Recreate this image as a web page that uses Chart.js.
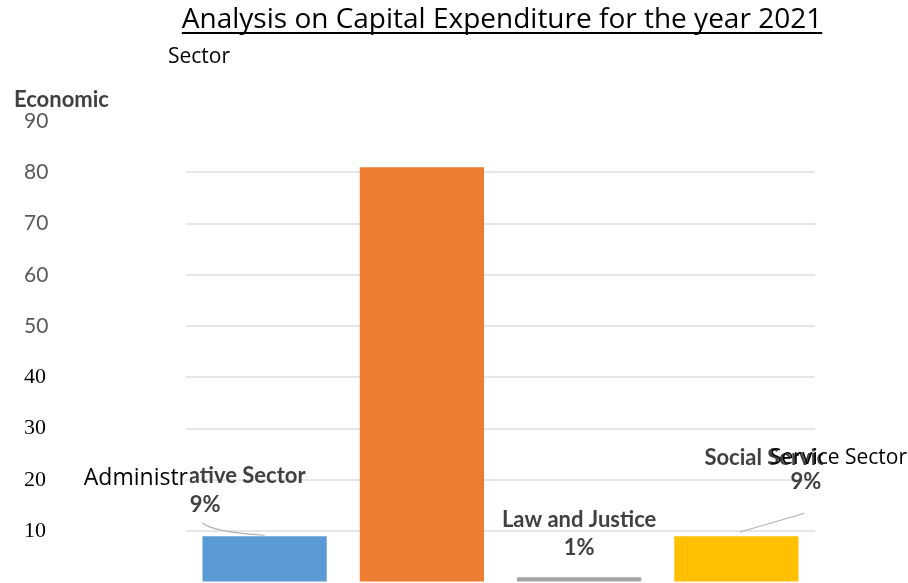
<!DOCTYPE html>
<html>
<head>
<meta charset="utf-8">
<title>Capital Expenditure 2021</title>
<script src="https://cdn.jsdelivr.net/npm/chart.js@4.4.1/dist/chart.umd.min.js"></script>
<style>
  html, body { margin: 0; padding: 0; background: #ffffff; }
  #capexChart { display: block; }
</style>
</head>
<body>
<canvas id="capexChart" width="908" height="583"></canvas>
<script>
// Capital expenditure share by sector, 2021 (percent)
const sectors = ['Administrative Sector', 'Economic Sector', 'Law and Justice', 'Social Service Sector'];
const sharePct = [9, 81, 1, 9];
const barColors = ['#5b9bd5', '#ed7d31', '#a5a5a5', '#ffc000'];
const yMin = 0;
const yMax = 90;
const yStep = 10;

const chartTitle = 'Analysis on Capital Expenditure for the year 2021';

const LABEL_GREY = '#404040';
const BOLD_FONT = 'bold 22px Lato';

const tickVal = c => (c && c.tick ? c.tick.value : null);

// Title (underlined), sector callouts and leader lines
const calloutPlugin = {
    id: 'callouts',
    afterDatasetsDraw(chart) {
        const ctx = chart.ctx;
        const bars = chart.getDatasetMeta(0).data;
        const pct = i => `${sharePct[i]}%`;

        ctx.save();
        ctx.textBaseline = 'alphabetic';
        ctx.fillStyle = '#000';
        ctx.font = '28px "Open Sans"';
        ctx.textAlign = 'center';
        ctx.fillText(chartTitle, 502, 28);
        const tw = ctx.measureText(chartTitle).width;
        ctx.fillRect(502 - tw / 2, 32, tw, 2);
        ctx.restore();

        // bold data labels live inside the plot picture only
        ctx.save();
        ctx.beginPath();
        ctx.rect(190, 40, 633, 543);
        ctx.clip();
        ctx.textBaseline = 'middle';
        ctx.fillStyle = LABEL_GREY;
        ctx.font = BOLD_FONT;

        // leader lines
        ctx.strokeStyle = '#b0b0b8';
        ctx.lineWidth = 1.2;
        const a = bars[0], s = bars[3];
        ctx.beginPath();
        ctx.moveTo(a.x - 62, a.y - 13);
        ctx.quadraticCurveTo(a.x - 50, a.y - 4, a.x, a.y - 1);
        ctx.moveTo(s.x + 3, s.y - 4);
        ctx.lineTo(s.x + 68, s.y - 23);
        ctx.stroke();

        ctx.textAlign = 'right';
        ctx.fillText(sectors[0], a.x + 41, a.y - 60);
        ctx.textAlign = 'left';
        ctx.fillText(pct(0), a.x - 75, a.y - 31);

        const l = bars[2];
        ctx.textAlign = 'center';
        ctx.fillText(sectors[2], l.x, l.y - 57);
        ctx.fillText(pct(2), l.x, l.y - 29);

        ctx.textAlign = 'left';
        ctx.fillText(sectors[3], s.x - 32, s.y - 78);
        ctx.textAlign = 'right';
        ctx.fillText(pct(3), s.x + 85, s.y - 54);
        ctx.restore();

        // pieces of the labels sitting outside the plot picture
        ctx.save();
        ctx.textBaseline = 'middle';
        ctx.fillStyle = LABEL_GREY;
        ctx.font = BOLD_FONT;
        ctx.textAlign = 'left';
        const eco = sectors[1].split(' ');
        ctx.fillText(eco[0], 14, 100);

        ctx.fillStyle = '#000';
        ctx.font = '21px "Open Sans"';
        ctx.fillText(eco[1], 168, 57);
        ctx.fillText(sectors[3].split(' ').slice(1).join(' '), 770, 458);
        ctx.font = '23px "Open Sans"';
        ctx.textAlign = 'right';
        ctx.fillText(sectors[0].slice(0, 9), 188, 478);
        ctx.restore();
    }
};

new Chart(document.getElementById('capexChart'), {
    type: 'bar',
    data: {
        labels: sectors,
        datasets: [{
            data: sharePct,
            backgroundColor: barColors,
            borderWidth: 0,
            categoryPercentage: 1,
            barPercentage: 0.79
        }]
    },
    options: {
        responsive: false,
        animation: false,
        devicePixelRatio: 1,
        layout: { padding: { top: 121, right: 93, bottom: 0, left: 24 } },
        plugins: {
            legend: { display: false },
            title: { display: false },
            tooltip: { enabled: false }
        },
        scales: {
            x: { display: false },
            y: {
                min: yMin,
                max: yMax,
                border: { display: false },
                grid: {
                    drawTicks: false,
                    lineWidth: 2,
                    color: c => (tickVal(c) === yMin || tickVal(c) === yMax) ? 'rgba(0,0,0,0)' : '#e6e6e6'
                },
                ticks: {
                    stepSize: yStep,
                    padding: 0,
                    crossAlign: 'far',
                    callback: v => (v === yMin ? '' : v),
                    color: c => tickVal(c) >= 50 ? '#595959' : '#000000',
                    // the blank zero label gets a tiny font so it adds no bottom padding
                    font: c => tickVal(c) === yMin
                        ? { size: 1 }
                        : tickVal(c) >= 50
                            ? { family: 'Lato', size: 21 }
                            : { family: '"Liberation Serif"', size: 22 }
                },
                afterFit(scale) { scale.width = 162; }
            }
        }
    },
    plugins: [calloutPlugin]
});
</script>
</body>
</html>
